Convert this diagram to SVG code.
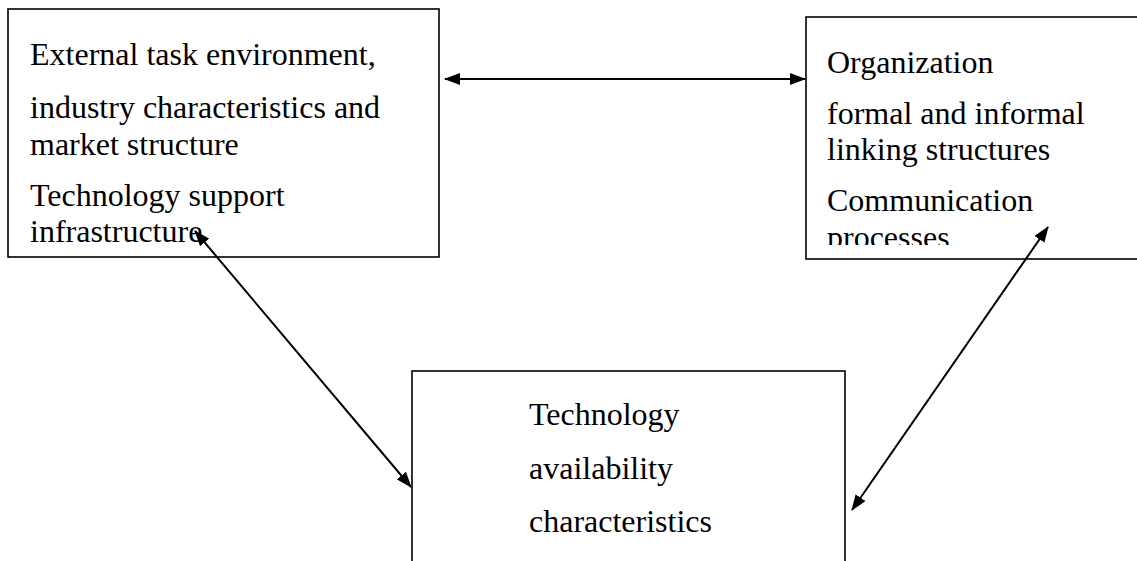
<svg xmlns="http://www.w3.org/2000/svg" width="1137" height="561" viewBox="0 0 1137 561">
  <style>
    .box { fill: #fff; stroke: #000; stroke-width: 1.6; }
    .lbl { font-family: "Liberation Serif", "Times New Roman", serif; font-size: 32px; fill: #000; }
    .link { stroke: #000; stroke-width: 2; fill: none; marker-start: url(#head); marker-end: url(#head); }
  </style>
  <defs>
    <marker id="head" viewBox="0 0 16 12" refX="15" refY="6" markerWidth="16" markerHeight="12" markerUnits="userSpaceOnUse" orient="auto-start-reverse">
      <path d="M0,0 L16,6 L0,12 Z" fill="#000"/>
    </marker>
    <clipPath id="orgClip">
      <rect x="806" y="17" width="340" height="228"/>
    </clipPath>
  </defs>

  <rect width="1137" height="561" fill="#fff"/>

  <!-- external environment -->
  <g id="environment">
    <rect class="box" x="8" y="9" width="431" height="248"/>
    <text class="lbl" x="30" y="65">External task environment,</text>
    <text class="lbl" x="30" y="118">industry characteristics and</text>
    <text class="lbl" x="30" y="155">market structure</text>
    <text class="lbl" x="30" y="206">Technology support</text>
    <text class="lbl" x="30" y="242">infrastructure</text>
  </g>

  <!-- organization -->
  <g id="organization">
    <rect class="box" x="806" y="17" width="345" height="242"/>
    <g clip-path="url(#orgClip)">
      <text class="lbl" x="827" y="73">Organization</text>
      <text class="lbl" x="827" y="124">formal and informal</text>
      <text class="lbl" x="827" y="160">linking structures</text>
      <text class="lbl" x="827" y="211">Communication</text>
      <text class="lbl" x="827" y="248">processes</text>
    </g>
  </g>

  <!-- technology -->
  <g id="technology">
    <rect class="box" x="412" y="371" width="433" height="200"/>
    <text class="lbl" x="529" y="425">Technology</text>
    <text class="lbl" x="529" y="479">availability</text>
    <text class="lbl" x="529" y="532">characteristics</text>
  </g>

  <!-- two-way links -->
  <g id="connectors">
    <line class="link" x1="445" y1="79" x2="805" y2="79"/>
    <line class="link" x1="195" y1="231" x2="411" y2="487"/>
    <line class="link" x1="1048" y1="227" x2="852" y2="510"/>
  </g>
</svg>
